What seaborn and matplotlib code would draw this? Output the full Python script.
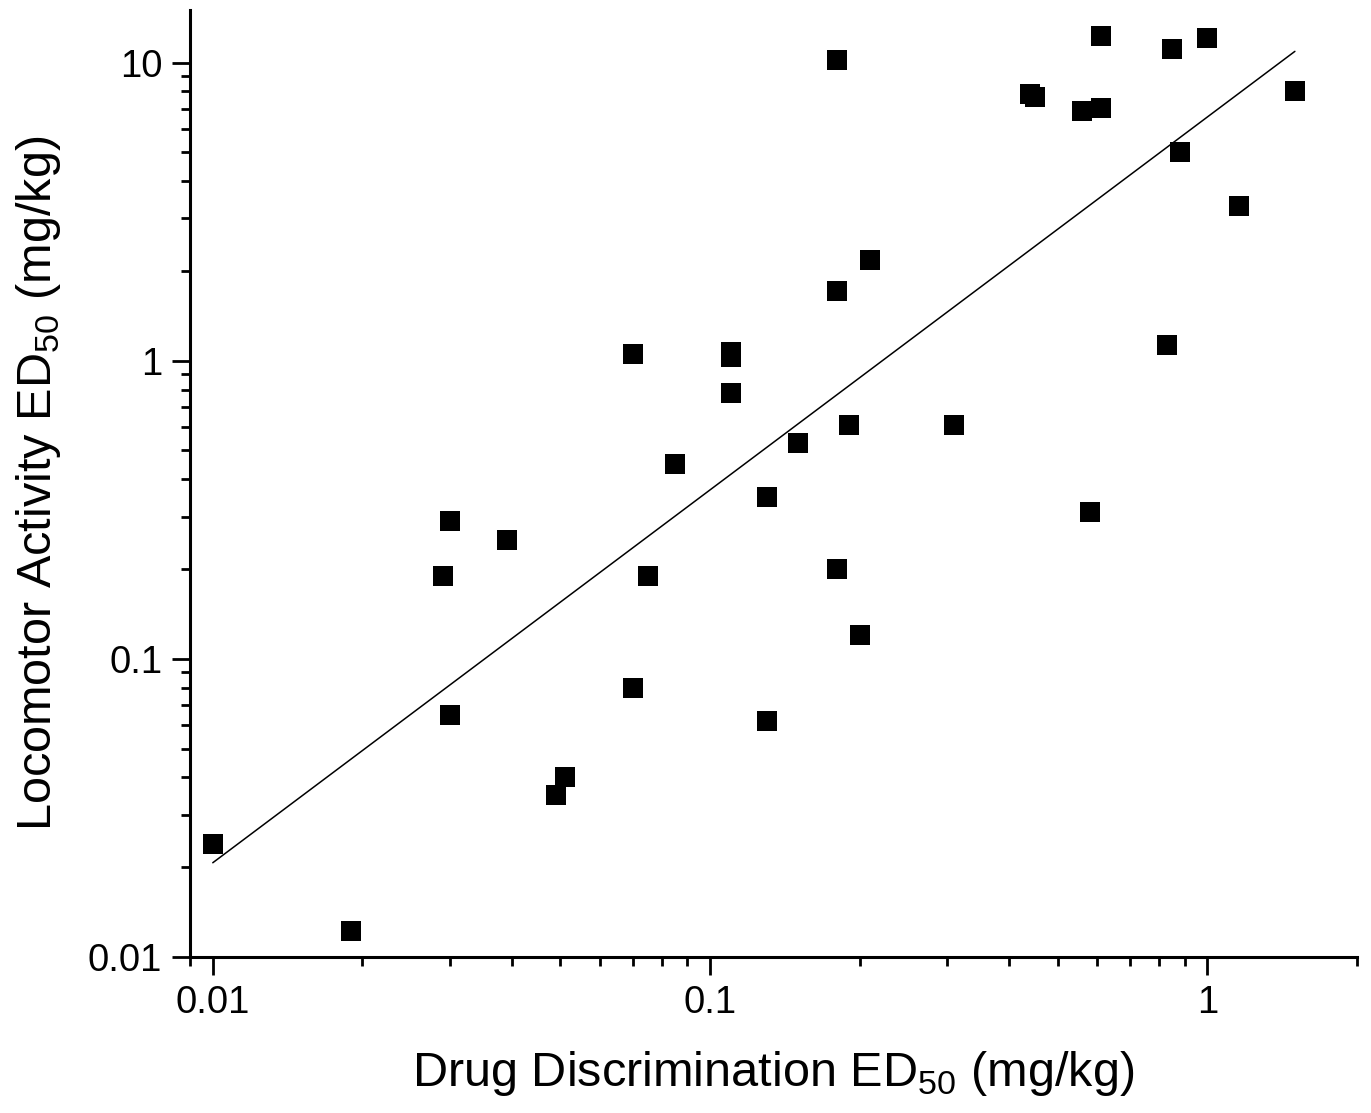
import numpy as np
import pandas as pd
import matplotlib
matplotlib.use("Agg")
import matplotlib.pyplot as plt
import seaborn as sns

# ED50 values (mg/kg)
dd_ed50 = [0.01, 0.019, 0.029, 0.030, 0.030, 0.039, 0.049, 0.051, 0.07, 0.07,
           0.075, 0.085, 0.11, 0.11, 0.11, 0.13, 0.13, 0.15, 0.18, 0.18,
           0.18, 0.19, 0.20, 0.21, 0.31, 0.44, 0.45, 0.56, 0.58, 0.61,
           0.61, 0.83, 0.85, 0.88, 1.0, 1.16, 1.5]
la_ed50 = [0.024, 0.0122, 0.19, 0.29, 0.065, 0.25, 0.035, 0.040, 1.05, 0.08,
           0.19, 0.45, 1.07, 1.03, 0.78, 0.35, 0.062, 0.53, 10.2, 1.71,
           0.20, 0.61, 0.12, 2.18, 0.61, 7.87, 7.64, 6.9, 0.31, 12.3,
           7.06, 1.13, 11.1, 5.0, 12.1, 3.3, 8.05]

# regression line end points
fit_x = [0.01, 1.5]
fit_y = [0.0207, 10.9]

sns.set_style("ticks")
plt.rcParams["font.family"] = ["Liberation Sans", "DejaVu Sans"]
plt.rcParams["mathtext.fontset"] = "custom"
plt.rcParams["mathtext.rm"] = "Liberation Sans"
for k in ["text.color", "axes.labelcolor", "xtick.color", "ytick.color", "axes.edgecolor"]:
    plt.rcParams[k] = "black"

df = pd.DataFrame({"dd": dd_ed50, "la": la_ed50})
fit = pd.DataFrame({"x": fit_x, "y": fit_y})

fig = plt.figure(figsize=(13.71, 11.13), dpi=100)
ax = fig.add_axes([0.1386, 0.1402, 0.9898 - 0.1386, 0.991 - 0.1402])

sns.lineplot(data=fit, x="x", y="y", color="black", linewidth=1.1, ax=ax)
sns.scatterplot(data=df, x="dd", y="la", marker="s", s=205, color="black",
                linewidth=0, ax=ax, zorder=3)

ax.set_xscale("log")
ax.set_yscale("log")
ax.set_xlim(0.009, 2)
ax.set_ylim(0.01, 15)

ax.set_xticks([0.01, 0.1, 1])
ax.set_xticklabels(["0.01", "0.1", "1"])
ax.set_yticks([0.01, 0.1, 1, 10])
ax.set_yticklabels(["0.01", "0.1", "1", "10"])
ax.xaxis.set_minor_locator(matplotlib.ticker.LogLocator(base=10, subs=np.arange(2, 10)))
ax.yaxis.set_minor_locator(matplotlib.ticker.LogLocator(base=10, subs=np.arange(2, 10)))
ax.xaxis.set_minor_formatter(matplotlib.ticker.NullFormatter())
ax.yaxis.set_minor_formatter(matplotlib.ticker.NullFormatter())

sns.despine(ax=ax)
for s in ["left", "bottom"]:
    ax.spines[s].set_linewidth(2.2)
    ax.spines[s].set_color("black")
ax.tick_params(which="major", length=13, width=2, labelsize=27.5, pad=7,
               color="black", labelcolor="black")
ax.tick_params(which="minor", length=6.5, width=2, color="black")

ax.set_xlabel(r"Drug Discrimination ED$_{\mathregular{50}}$ (mg/kg)", fontsize=35, labelpad=20)
ax.set_ylabel(r"Locomotor Activity ED$_{\mathregular{50}}$ (mg/kg)", fontsize=35, labelpad=18)

fig.savefig("out.png", dpi=100, facecolor="white")
